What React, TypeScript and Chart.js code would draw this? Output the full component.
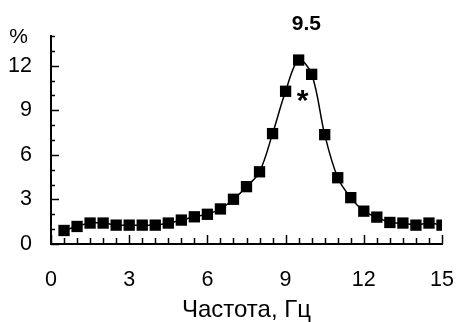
import React, { useEffect, useRef } from "react";
import { Chart, registerables } from "chart.js";

Chart.register(...registerables);

const frequencies = [0.5, 1, 1.5, 2, 2.5, 3, 3.5, 4, 4.5, 5, 5.5, 6, 6.5, 7, 7.5, 8, 8.5, 9, 9.5, 10, 10.5, 11, 11.5, 12, 12.5, 13, 13.5, 14, 14.5, 15];
const percents = [0.91, 1.18, 1.41, 1.41, 1.27, 1.27, 1.27, 1.27, 1.41, 1.61, 1.83, 2.0, 2.36, 3.01, 3.86, 4.86, 7.43, 10.28, 12.38, 11.42, 7.36, 4.46, 3.12, 2.21, 1.81, 1.45, 1.41, 1.27, 1.41, 1.27];
const xTickLabels = ["0", "3", "6", "9", "12", "15"];
const yTickLabels = ["0", "3", "6", "9", "12"];
const peakLabel = "9.5";
const peakLabelX = 9.8;
const markX = 9.65;
const markY = 10.0;
const yUnit = "%";
const xTitle = "Частота, Гц";

const FONT = "'Liberation Sans', Arial, sans-serif";

const decorPlugin = {
  id: "decor",
  afterDraw(chart: any) {
    const ctx = chart.ctx;
    const xs = chart.scales.x;
    const ys = chart.scales.y;
    const area = chart.chartArea;
    ctx.save();
    ctx.strokeStyle = "#000";
    ctx.lineWidth = 1.5;
    for (let v = 0; v <= 15.001; v += 0.5) {
      const px = Math.round(xs.getPixelForValue(v)) + 0.5;
      const major = Math.abs(v / 3 - Math.round(v / 3)) < 1e-6;
      const len = major ? 9 : 6;
      ctx.beginPath();
      ctx.moveTo(px, area.bottom);
      ctx.lineTo(px, area.bottom - len);
      ctx.stroke();
    }
    for (let v = 0; v <= 14.001; v += 1) {
      const py = Math.round(ys.getPixelForValue(v)) + 0.5;
      const major = v % 3 === 0;
      const len = major ? 8 : 4;
      ctx.beginPath();
      ctx.moveTo(area.left, py);
      ctx.lineTo(area.left + len, py);
      ctx.stroke();
    }
    ctx.fillStyle = "#000";
    ctx.textAlign = "center";
    ctx.textBaseline = "middle";
    ctx.font = `bold 21px ${FONT}`;
    ctx.fillText(peakLabel, xs.getPixelForValue(peakLabelX), 24);
    ctx.font = `bold 30px ${FONT}`;
    ctx.fillText("*", xs.getPixelForValue(markX), ys.getPixelForValue(markY) + 6);
    ctx.font = `21px ${FONT}`;
    ctx.textAlign = "right";
    ctx.fillText(yUnit, 28, ys.getPixelForValue(14) + 1);
    ctx.restore();
  },
};

export default function App() {
  const ref = useRef<HTMLCanvasElement>(null);
  useEffect(() => {
    const chart = new Chart(ref.current as HTMLCanvasElement, {
      type: "line",
      data: {
        datasets: [
          {
            data: frequencies.map((f, i) => ({ x: f, y: percents[i] })),
            borderColor: "#000",
            borderWidth: 1.5,
            tension: 0.35,
            pointStyle: "rect",
            pointRadius: 8,
            pointBackgroundColor: "#000",
            pointBorderWidth: 0,
          },
        ],
      },
      options: {
        animation: false,
        responsive: false,
        maintainAspectRatio: false,
        layout: { padding: { top: 36, right: 0, left: 8, bottom: 0 } },
        plugins: { legend: { display: false }, tooltip: { enabled: false } },
        scales: {
          x: {
            type: "linear",
            min: 0,
            max: 15,
            grid: { display: false, drawTicks: false },
            border: { display: true, color: "#000", width: 2 },
            afterFit: (s: any) => {
              s.height = 78;
              s.paddingRight = 14;
              s.paddingLeft = 0;
            },
            ticks: {
              stepSize: 3,
              padding: 23,
              color: "#000",
              font: { family: FONT, size: 21.5 },
              maxRotation: 0,
              callback: (v: any) => (xTickLabels.includes(String(v)) ? String(v) : ""),
            },
            title: {
              display: true,
              text: xTitle,
              color: "#000",
              font: { family: FONT, size: 24, lineHeight: 1 },
              padding: { top: 7, bottom: 0 },
            },
          },
          y: {
            type: "linear",
            min: 0,
            max: 14,
            grid: { display: false, drawTicks: false },
            border: { display: true, color: "#000", width: 2 },
            afterFit: (s: any) => {
              s.width = 43;
            },
            ticks: {
              stepSize: 1,
              padding: 19,
              color: "#000",
              font: { family: FONT, size: 21.5 },
              autoSkip: false,
              callback: (v: any) => (yTickLabels.includes(String(v)) ? String(v) : ""),
            },
          },
        },
      },
      plugins: [decorPlugin],
    });
    return () => chart.destroy();
  }, []);
  return (
    <div style={{ position: "fixed", left: 0, top: 0, width: 456, height: 322, background: "#fff" }}>
      <canvas ref={ref} width={456} height={322} style={{ width: 456, height: 322 }} />
    </div>
  );
}
